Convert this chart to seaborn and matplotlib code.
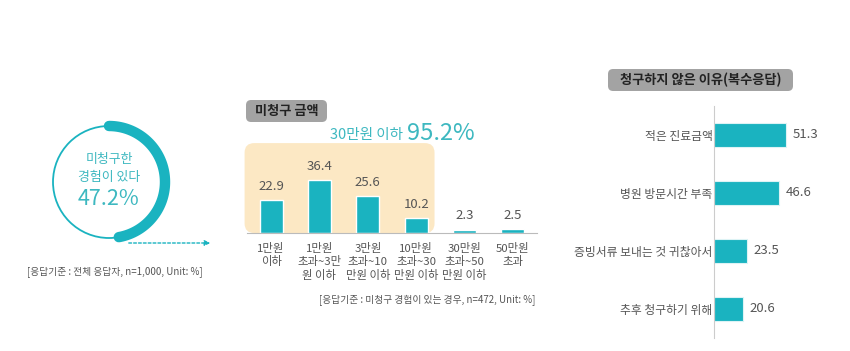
import numpy as np
import matplotlib
matplotlib.use("Agg")
import matplotlib.pyplot as plt
import seaborn as sns
from matplotlib.patches import FancyBboxPatch, Circle

# data
unclaimed_pct = 47.2
under_30_pct = 95.2
amount_labels = ["1만원\n이하", "1만원\n초과~3만\n원 이하", "3만원\n초과~10\n만원 이하",
                 "10만원\n초과~30\n만원 이하", "30만원\n초과~50\n만원 이하", "50만원\n초과"]
amount_values = [22.9, 36.4, 25.6, 10.2, 2.3, 2.5]
reason_labels = ["적은 진료금액", "병원 방문시간 부족", "증빙서류 보내는 것 귀찮아서", "추후 청구하기 위해"]
reason_values = [51.3, 46.6, 23.5, 20.6]

sns.set_style("white")
plt.rcParams['font.family'] = ['Noto Sans CJK KR', 'DejaVu Sans']

teal = "#1AB3C0"
teal_txt = "#3DB8C0"
gray_txt = "#555555"
tan = "#FCE8C4"
box_gray = "#A3A3A3"

W, H = 850, 351
fig = plt.figure(figsize=(8.5, 3.51), dpi=100)


def px_axes(x0, y0, x1, y1):
    # pixel box (top-left origin) -> figure axes
    return fig.add_axes([x0 / W, 1 - y1 / H, (x1 - x0) / W, (y1 - y0) / H])


def label_box(x0, y0, x1, y1, text):
    # rounded gray header box in pixel coords
    fig.patches.append(FancyBboxPatch((x0 / W, 1 - y1 / H), (x1 - x0) / W, (y1 - y0) / H,
                                      boxstyle="round,pad=0,rounding_size=0.006",
                                      mutation_aspect=W / H, facecolor=box_gray,
                                      edgecolor="none", transform=fig.transFigure))
    fig.text((x0 + x1) / 2 / W, 1 - (y0 + y1) / 2 / H, text, ha="center", va="center",
             fontsize=9.5, color="#222222", fontweight="bold")


# ---- donut ----
ax0 = px_axes(109 - 70, 182 - 70, 109 + 70, 182 + 70)
ax0.set_xlim(-1.25, 1.25)
ax0.set_ylim(-1.25, 1.25)
ax0.set_aspect("equal")
ax0.axis("off")
ax0.add_patch(Circle((0, 0), 1, fill=False, lw=1.3, color=teal))
theta = np.radians(np.linspace(90, 90 - 360 * unclaimed_pct / 100, 100))
ax0.plot(np.cos(theta), np.sin(theta), color=teal, lw=7.5, solid_capstyle="round")
ax0.text(0, 0.4, "미청구한", ha="center", va="center", fontsize=9.3, color=teal_txt)
ax0.text(0, 0.08, "경험이 있다", ha="center", va="center", fontsize=9.3, color=teal_txt)
ax0.text(0, -0.3, f"{unclaimed_pct}%", ha="center", va="center", fontsize=15.5, color=teal_txt)

fig.add_artist(plt.Annotation("", xy=(213 / W, 1 - 243 / H), xytext=(126 / W, 1 - 243 / H),
                              xycoords="figure fraction", textcoords="figure fraction",
                              arrowprops=dict(arrowstyle="-|>", color=teal, lw=1,
                                              linestyle=(0, (2, 1.5)), mutation_scale=8)))
fig.text(115 / W, 1 - 272 / H, "[응답기준 : 전체 응답자, n=1,000, Unit: %]",
         ha="center", va="center", fontsize=7, color=gray_txt)

# ---- middle bar chart ----
ax1 = px_axes(247, 131.5, 537, 233)
ax1.add_patch(FancyBboxPatch((-0.55, 0), 3.93, 62,
                             boxstyle="round,pad=0,rounding_size=0.2",
                             mutation_aspect=33, facecolor=tan, edgecolor="none",
                             clip_on=False, zorder=0))
sns.barplot(x=list(range(len(amount_values))), y=amount_values, color=teal,
            width=0.47, ax=ax1, zorder=2, saturation=1)
ax1.set_xlim(-0.5, 5.5)
ax1.set_ylim(0, 70)
for i, v in enumerate(amount_values):
    ax1.text(i, v + 5, f"{v}", ha="center", va="bottom", fontsize=9.5, color=gray_txt)
ax1.set_xticks(range(len(amount_labels)))
ax1.set_xticklabels(amount_labels, fontsize=8.2, color=gray_txt, linespacing=1.3, va="top")
ax1.set_xticks(np.arange(-0.5, 6, 1), minor=True)
ax1.tick_params(axis="x", which="major", length=0, pad=7)
ax1.tick_params(axis="x", which="minor", length=3, color="#BBBBBB", width=0.8)
ax1.set_yticks([])
for s in ["top", "right", "left"]:
    ax1.spines[s].set_visible(False)
ax1.spines["bottom"].set_color("#BBBBBB")
ax1.spines["bottom"].set_linewidth(0.8)
ax1.patch.set_alpha(0)
ax1.set_xlabel("")

fig.text(403 / W, 1 - 135 / H, "30만원 이하", ha="right", va="center", fontsize=10.5, color=teal_txt)
fig.text(407 / W, 1 - 133 / H, f"{under_30_pct}%", ha="left", va="center", fontsize=17, color=teal_txt)
label_box(246, 100, 327, 122, "미청구 금액")
fig.text(535 / W, 1 - 300 / H, "[응답기준 : 미청구 경험이 있는 경우, n=472, Unit: %]",
         ha="right", va="center", fontsize=7, color=gray_txt)

# ---- right horizontal bars ----
ax2 = px_axes(714, 106, 826, 338)
sns.barplot(x=reason_values, y=reason_labels, orient="h", color=teal, width=0.41,
            ax=ax2, saturation=1, edgecolor="#DDF3F5", linewidth=0.8)
ax2.set_xlim(0, 80)
ax2.set_ylim(3.5, -0.5)
for i, v in enumerate(reason_values):
    ax2.text(v + 5, i, f"{v}", ha="left", va="center", fontsize=9.5, color=gray_txt)
ax2.set_yticks(range(len(reason_labels)))
ax2.set_yticklabels(reason_labels, fontsize=8.5, color=gray_txt)
ax2.set_yticks(np.arange(-0.5, 4, 1), minor=True)
ax2.tick_params(axis="y", which="major", length=0, pad=1)
ax2.tick_params(axis="y", which="minor", length=3, color="#CCCCCC", width=0.8)
ax2.set_xticks([])
for s in ["top", "right", "bottom"]:
    ax2.spines[s].set_visible(False)
ax2.spines["left"].set_color("#CCCCCC")
ax2.spines["left"].set_linewidth(0.8)
ax2.set_xlabel("")
ax2.set_ylabel("")
ax2.patch.set_alpha(0)

label_box(608, 69, 793, 91, "청구하지 않은 이유(복수응답)")

fig.savefig("out.png", dpi=100)
